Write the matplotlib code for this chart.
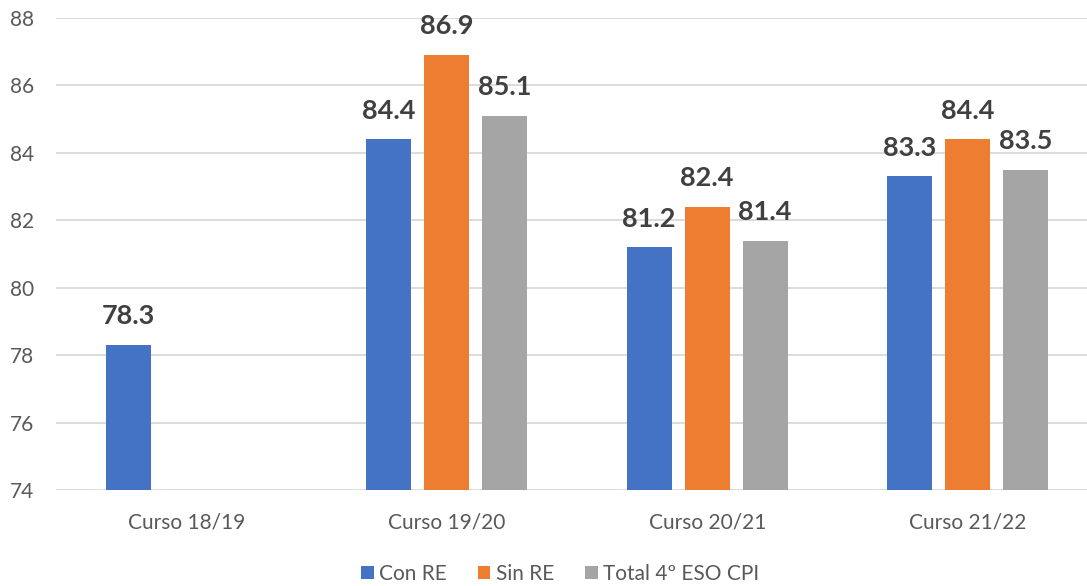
import numpy as np
import matplotlib
matplotlib.use('Agg')
from matplotlib import pyplot as plt

plt.rcParams['font.family'] = ['Lato', 'DejaVu Sans']

# data
cursos = ['Curso 18/19', 'Curso 19/20', 'Curso 20/21', 'Curso 21/22']
series = ['Con RE', 'Sin RE', 'Total 4º ESO CPI']
con_re = [78.3, 84.4, 81.2, 83.3]
sin_re = [np.nan, 86.9, 82.4, 84.4]
total = [np.nan, 85.1, 81.4, 83.5]
colors = ['#4472C4', '#ED7D31', '#A5A5A5']

fig = plt.figure(figsize=(10.87, 5.86), dpi=100)
ax = fig.add_axes([56/1087, 1-490/586, 1-56/1087, (490-18)/586])

x = np.arange(len(cursos))
width = 0.173
step = 0.2226
for i, (vals, col, lab) in enumerate(zip([con_re, sin_re, total], colors, series)):
    pos = x + (i-1)*step
    bars = ax.bar(pos, np.array(vals)-74, width, bottom=74, color=col, label=lab, zorder=3)
    for p, v in zip(pos, vals):
        if not np.isnan(v):
            ax.annotate(f'{v:.1f}', (p, v), xytext=(0, 12), textcoords='offset points',
                        ha='center', va='bottom', fontsize=19.5, fontweight='bold', color='#404040')

ax.set_ylim(74, 88)
ax.set_yticks(np.arange(74, 89, 2))
ax.set_xlim(-0.5, 3.458)
ax.set_xticks(x)
ax.set_xticklabels(cursos)
ax.tick_params(axis='both', length=0, labelsize=15, colors='#595959')
ax.tick_params(axis='x', pad=16)
ax.tick_params(axis='y', pad=16)
ax.grid(axis='y', color='#D9D9D9', linewidth=1.3, zorder=0)
for s in ax.spines.values():
    s.set_visible(False)

ax.legend(loc='center', bbox_to_anchor=(560/1087, 1-574/586), bbox_transform=fig.transFigure,
          ncol=3, frameon=False, fontsize=15, handlelength=0.6, handleheight=0.6,
          handletextpad=0.25, columnspacing=1.5, labelcolor='#595959')

fig.savefig('out.png', dpi=100)
